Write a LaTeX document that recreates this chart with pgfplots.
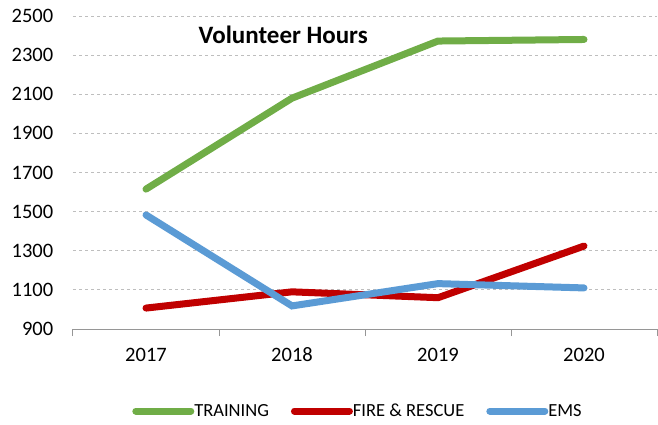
\documentclass[border=0pt]{standalone}
\usepackage{pgfplots}
\pgfplotsset{compat=1.18}
\usepackage{fontspec}
\setmainfont{Carlito}
\definecolor{cgreen}{RGB}{112,173,71}
\definecolor{cred}{RGB}{192,0,0}
\definecolor{cblue}{RGB}{91,155,213}
\begin{document}
\begin{tikzpicture}[x=1pt,y=1pt]
\begin{axis}[
  at={(0,0)}, anchor=south west,
  scale only axis, width=584pt, height=313pt,
  xmin=-0.5, xmax=3.5, ymin=900, ymax=2500,
  xtick={0,1,2,3}, xticklabels={2017,2018,2019,2020},
  minor xtick={-0.5,0.5,1.5,2.5,3.5},
  major x tick style={draw=none},
  minor x tick style={draw={rgb,255:red,150;green,150;blue,150}, line width=1pt},
  minor tick length=7pt,
  tick align=outside,
  ytick={900,1100,...,2500},
  ytick style={draw=none},
  axis x line*=bottom, axis y line*=left,
  y axis line style={draw=none},
  x axis line style={draw={rgb,255:red,150;green,150;blue,150}, line width=1pt, -},
  ymajorgrids,
  grid style={dashed, draw={rgb,255:red,190;green,190;blue,190}, line width=0.8pt},
  /pgf/number format/assume math mode=true,
  /pgf/number format/1000 sep={},
  tick label style={font=\fontsize{20.5}{24}\selectfont},
  yticklabel style={xshift=-12pt},
  xticklabel style={yshift=-11pt},
  legend columns=3,
  legend style={draw=none, fill=none, at={(0.488,-0.262)}, anchor=center,
    font=\fontsize{18.5}{22}\selectfont, /tikz/every even column/.append style={column sep=20pt},
    /tikz/every odd column/.append style={column sep=-2pt}},
  legend image code/.code={\draw[#1, line cap=round] (0pt,0pt) -- (55pt,0pt);},
  every axis plot/.append style={line width=7pt, line cap=round},
]
\addplot[cgreen] coordinates {(0,1615) (1,2080) (2,2372) (3,2380)};
\addlegendentry{TRAINING}
\addplot[cred] coordinates {(0,1007) (1,1090) (2,1060) (3,1324)};
\addlegendentry{FIRE \& RESCUE}
\addplot[cblue] coordinates {(0,1483) (1,1018) (2,1132) (3,1110)};
\addlegendentry{EMS}
\node[font=\bfseries\fontsize{25}{30}\selectfont] at (rel axis cs:0.36,0.94) {Volunteer Hours};
\end{axis}
\pgfresetboundingbox
\path[use as bounding box] (-73,-95) rectangle (585,329);
\end{tikzpicture}
\end{document}
